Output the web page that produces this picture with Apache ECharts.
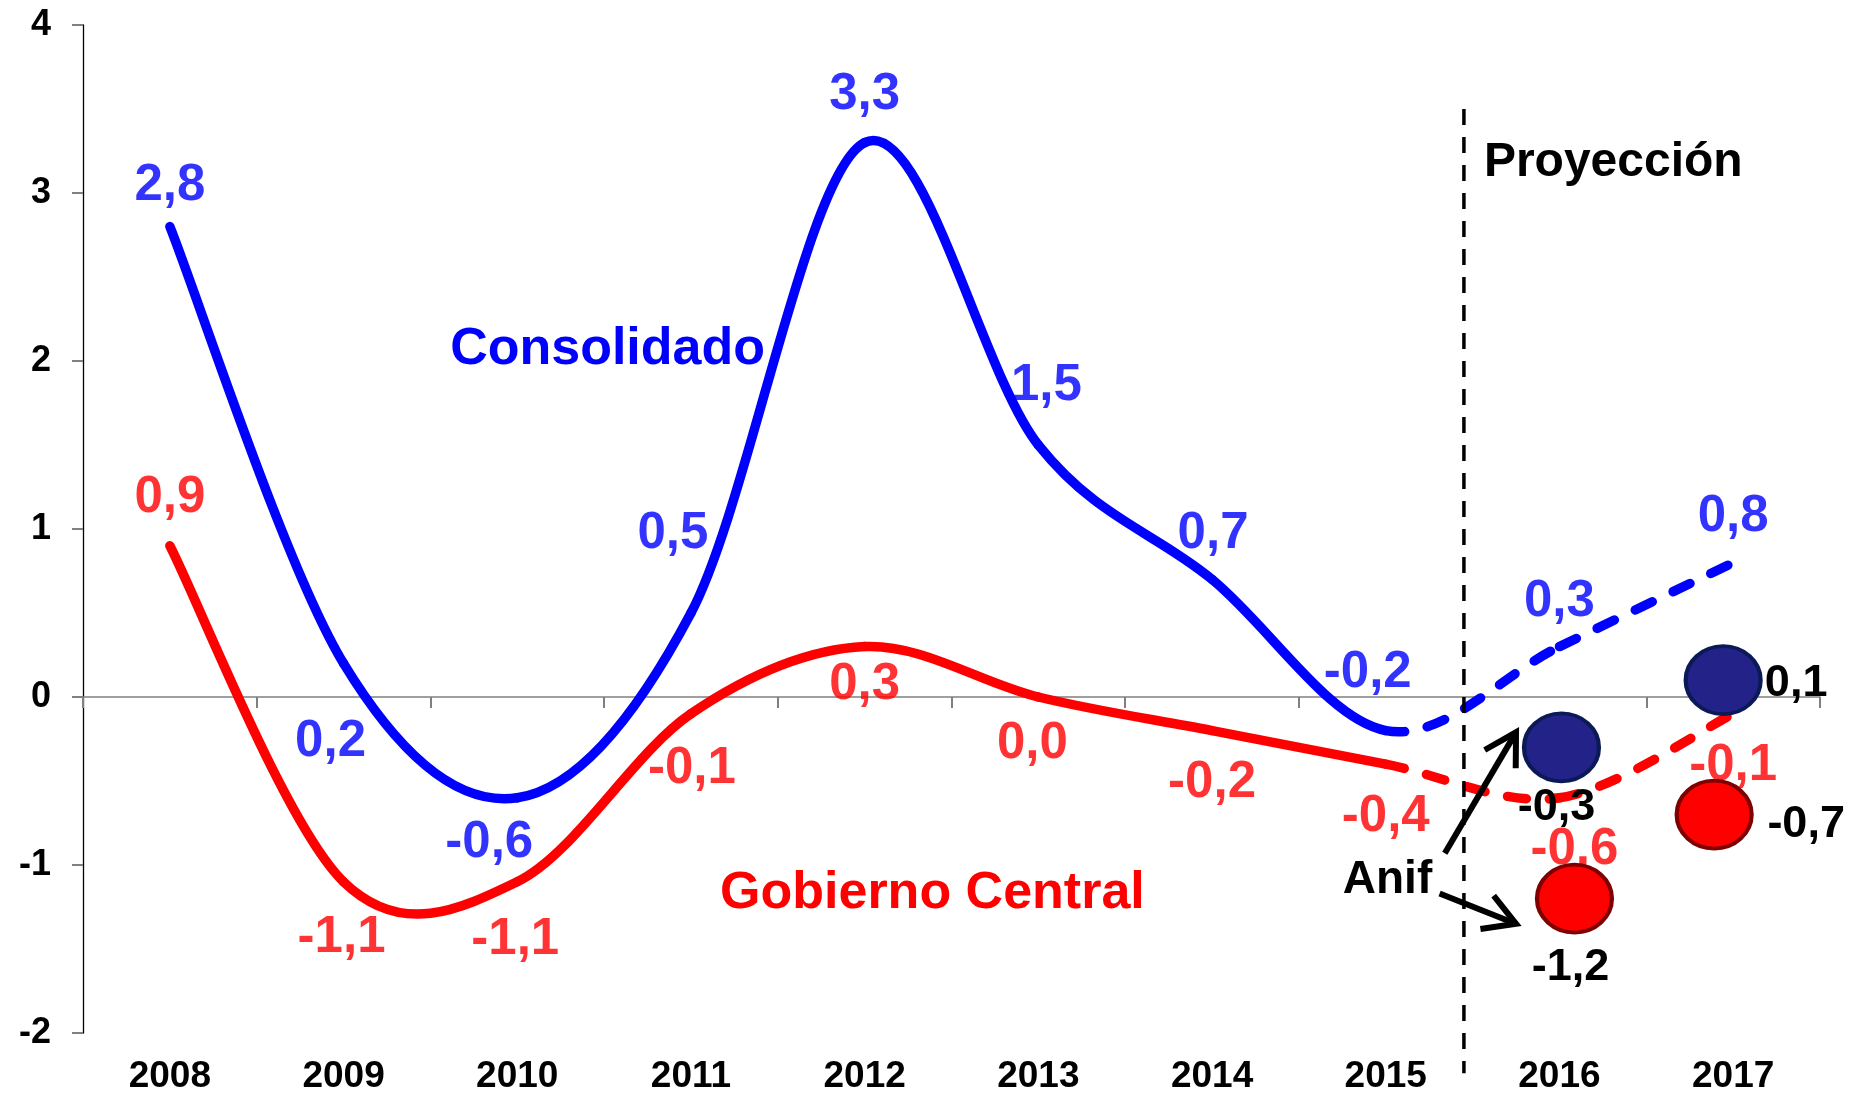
<!DOCTYPE html>
<html>
<head>
<meta charset="utf-8">
<script src="https://cdn.jsdelivr.net/npm/echarts@6/dist/echarts.min.js"></script>
<style>
  html, body { margin: 0; padding: 0; background: #ffffff; }
  #chart { width: 1861px; height: 1094px; }
</style>
</head>
<body>
<div id="chart"></div>
<script>
// ---- data -------------------------------------------------------------
const years = ['2008', '2009', '2010', '2011', '2012', '2013', '2014', '2015', '2016', '2017'];
const consolidado = [2.8, 0.2, -0.6, 0.5, 3.3, 1.5, 0.7, -0.2, 0.3, 0.8];
const gobiernoCentral = [0.9, -1.1, -1.1, -0.1, 0.3, 0.0, -0.2, -0.4, -0.6, -0.1];

// Anif projections
const anifYears = ['2016', '2017'];
const anifConsolidado = [-0.3, 0.1];
const anifGobierno = [-1.2, -0.7];

// value axis ticks
const yMin = -2;
const yMax = 4;
const yStep = 1;

// segments after this year are drawn dashed (projection)
const lastObservedYear = '2015';

// ---- layout / style ---------------------------------------------------
const FONT = '"Liberation Sans", Arial, Helvetica, sans-serif';
const BLUE = '#0000ff';
const RED = '#ff0000';
const LINE_WIDTH = 9.5;

// value label offsets (px) from each point
const consLabelOffset = [[0, -41], [-13, 79], [-28, 45], [-18, -79], [0, -48], [8, -59], [1, -45], [-18, -58], [0, -45], [0, -46]];
const gobLabelOffset = [[0, -48], [-2, 56], [-2, 58], [1, 55], [0, 38], [-6, 47], [0, 52], [0, 53], [15, 52], [0, 52]];

// Anif marker horizontal shifts and label offsets (px)
const anifConsShift = [2, -10];
const anifGobShift = [15, -19];
const anifConsLabelOffset = [[-5, 60], [73, 3]];
const anifGobLabelOffset = [[-4, 69], [92, 10]];

// text notes and arrows, placed in axis units (x = year index)
const notes = [
  { text: 'Consolidado', at: [2.52, 2.07], color: BLUE, size: 52 },
  { text: 'Gobierno Central', at: [4.39, -1.17], color: RED, size: 52 },
  { text: 'Proyección', at: [8.31, 3.18], color: '#000000', size: 48 },
  { text: 'Anif', at: [7.01, -1.09], color: '#000000', size: 46 }
];
const arrows = [
  { from: [7.34, -0.93], to: [7.75, -0.21] },
  { from: [7.31, -1.17], to: [7.75, -1.35] }
];
const divider = { x: 7.45, top: 3.5, bottom: -2.24 };

const fmt = v => v.toFixed(1).replace('.', ',');
const projStart = years.indexOf(lastObservedYear);

// Smooth curve (cardinal spline, Excel-style), one bezier segment per item
function curveSeries(name, values, color) {
  const n = values.length;
  const clampIdx = k => Math.max(0, Math.min(n - 1, k));
  return {
    type: 'custom',
    name: name,
    xAxisIndex: 2,
    yAxisIndex: 0,
    z: 3,
    silent: true,
    data: values.map((v, i) => [i, v]),
    renderItem(params, api) {
      const i = params.dataIndex;
      if (i >= n - 1) return null;
      const pt = k => api.coord([clampIdx(k), values[clampIdx(k)]]);
      const p0 = pt(i - 1), p1 = pt(i), p2 = pt(i + 1), p3 = pt(i + 2);
      return {
        type: 'bezierCurve',
        shape: {
          x1: p1[0], y1: p1[1],
          x2: p2[0], y2: p2[1],
          cpx1: p1[0] + (p2[0] - p0[0]) / 6, cpy1: p1[1] + (p2[1] - p0[1]) / 6,
          cpx2: p2[0] - (p3[0] - p1[0]) / 6, cpy2: p2[1] - (p3[1] - p1[1]) / 6
        },
        style: {
          stroke: color,
          fill: 'none',
          lineWidth: LINE_WIDTH,
          lineCap: 'round',
          lineJoin: 'round',
          lineDash: i >= projStart ? [19, 23] : null
        }
      };
    }
  };
}

function labelSeries(values, offsets, color) {
  return {
    type: 'scatter',
    xAxisIndex: 2,
    yAxisIndex: 0,
    z: 4,
    silent: true,
    symbolSize: 1,
    itemStyle: { color: 'rgba(0,0,0,0)' },
    data: values.map((v, i) => ({ value: [i, v], label: { offset: offsets[i] } })),
    label: {
      show: true,
      position: 'inside',
      formatter: p => fmt(p.value[1]),
      color: color,
      fontSize: 51,
      fontWeight: 'bold',
      fontFamily: FONT
    }
  };
}

const ELLIPSE = 'path://M0,50A50,50,0,1,1,100,50A50,50,0,1,1,0,50Z';

function anifSeries(values, shifts, offsets, fill, border) {
  return {
    type: 'scatter',
    xAxisIndex: 2,
    yAxisIndex: 0,
    z: 5,
    silent: true,
    symbol: ELLIPSE,
    symbolSize: [75, 68],
    itemStyle: { color: fill, borderColor: border, borderWidth: 4, opacity: 1 },
    data: values.map((v, k) => ({
      value: [years.indexOf(anifYears[k]), v],
      symbolOffset: [shifts[k], 0],
      label: { offset: offsets[k] }
    })),
    label: {
      show: true,
      position: 'inside',
      formatter: p => fmt(p.value[1]),
      color: '#000000',
      fontSize: 45,
      fontWeight: 'bold',
      fontFamily: FONT
    }
  };
}

const annotationSeries = {
  type: 'custom',
  xAxisIndex: 2,
  yAxisIndex: 0,
  z: 4,
  silent: true,
  data: [[0, 0]],
  renderItem(params, api) {
    const children = [];
    // projection divider
    const dTop = api.coord([divider.x, divider.top]);
    const dBot = api.coord([divider.x, divider.bottom]);
    children.push({
      type: 'line',
      shape: { x1: dTop[0], y1: dTop[1], x2: dBot[0], y2: dBot[1] },
      style: { stroke: '#000000', lineWidth: 3.5, lineDash: [16, 12], fill: 'none' }
    });
    // notes
    notes.forEach(nt => {
      const p = api.coord(nt.at);
      children.push({
        type: 'text',
        x: p[0], y: p[1],
        style: {
          text: nt.text, fill: nt.color, fontSize: nt.size, fontWeight: 'bold',
          fontFamily: FONT, align: 'center', verticalAlign: 'middle'
        }
      });
    });
    // arrows
    arrows.forEach(a => {
      const s = api.coord(a.from);
      const t = api.coord(a.to);
      const dx = t[0] - s[0], dy = t[1] - s[1];
      const len = Math.sqrt(dx * dx + dy * dy);
      const ux = dx / len, uy = dy / len;
      const head = 36, ang = 30 * Math.PI / 180;
      const rot = (x, y, a2) => [x * Math.cos(a2) - y * Math.sin(a2), x * Math.sin(a2) + y * Math.cos(a2)];
      const r1 = rot(ux, uy, ang), r2 = rot(ux, uy, -ang);
      const arm1 = [t[0] - r1[0] * head, t[1] - r1[1] * head];
      const arm2 = [t[0] - r2[0] * head, t[1] - r2[1] * head];
      const lineStyle = { stroke: '#000000', lineWidth: 6, fill: 'none', lineJoin: 'miter', lineCap: 'butt' };
      children.push({ type: 'line', shape: { x1: s[0], y1: s[1], x2: t[0] - ux * 3, y2: t[1] - uy * 3 }, style: lineStyle });
      children.push({ type: 'polyline', shape: { points: [arm1, t, arm2] }, style: lineStyle });
    });
    return { type: 'group', children: children };
  }
};

const chart = echarts.init(document.getElementById('chart'), null, { renderer: 'canvas' });

chart.setOption({
  animation: false,
  backgroundColor: '#ffffff',
  grid: {
    left: 83, right: 41, top: 25, bottom: 61,
    containLabel: false,
    outerBoundsMode: 'none'
  },
  xAxis: [
    {
      // zero line with boundary ticks
      type: 'category',
      data: years,
      position: 'bottom',
      boundaryGap: true,
      axisLine: { show: true, onZero: true, lineStyle: { color: '#808080', width: 1.5 } },
      axisTick: { show: true, length: 11, lineStyle: { color: '#808080', width: 2 } },
      axisLabel: { show: false },
      splitLine: { show: false }
    },
    {
      // year labels along the bottom
      type: 'category',
      data: years,
      position: 'bottom',
      boundaryGap: true,
      axisLine: { show: false, onZero: false },
      axisTick: { show: false },
      axisLabel: {
        show: true,
        interval: 0,
        margin: 44,
        verticalAlign: 'middle',
        color: '#000000',
        fontSize: 37,
        fontWeight: 'bold',
        fontFamily: FONT
      },
      splitLine: { show: false }
    },
    {
      // index scale used to place series and notes
      type: 'value',
      min: -0.5,
      max: years.length - 0.5,
      show: false
    }
  ],
  yAxis: [
    {
      type: 'value',
      min: yMin,
      max: yMax,
      interval: yStep,
      axisLine: { show: true, onZero: false, lineStyle: { color: '#000000', width: 1.3 } },
      axisTick: { show: true, length: 11, lineStyle: { color: '#808080', width: 2 } },
      axisLabel: {
        margin: 32,
        color: '#000000',
        fontSize: 36,
        fontWeight: 'bold',
        fontFamily: FONT
      },
      splitLine: { show: false }
    }
  ],
  series: [
    annotationSeries,
    curveSeries('Gobierno Central', gobiernoCentral, RED),
    curveSeries('Consolidado', consolidado, BLUE),
    labelSeries(consolidado, consLabelOffset, BLUE),
    labelSeries(gobiernoCentral, gobLabelOffset, RED),
    anifSeries(anifConsolidado, anifConsShift, anifConsLabelOffset, '#222288', '#0b1a57'),
    anifSeries(anifGobierno, anifGobShift, anifGobLabelOffset, '#ff0000', '#7f0000')
  ]
});
</script>
</body>
</html>
